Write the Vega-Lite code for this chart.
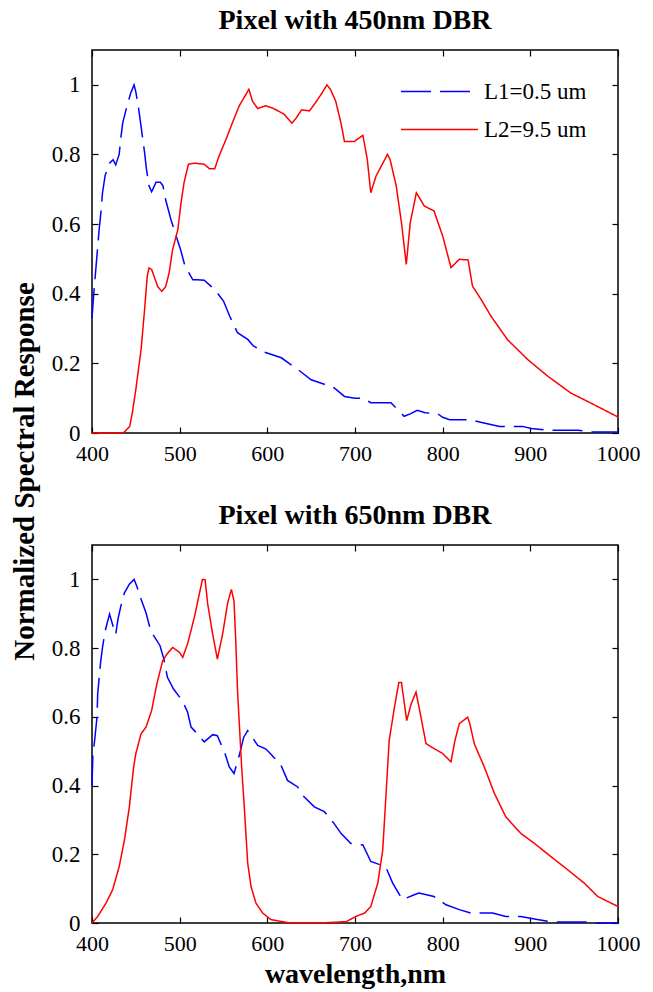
{
  "$schema": "https://vega.github.io/schema/vega-lite/v6.json",
  "padding": {"left": 9, "top": 6, "right": 5, "bottom": 5},
  "background": "white",
  "datasets": {
    "top": [
      {"wl": 400, "v": 0.33, "s": "L1=0.5 um"}, {"wl": 402, "v": 0.40, "s": "L1=0.5 um"}, {"wl": 404, "v": 0.46, "s": "L1=0.5 um"}, {"wl": 406, "v": 0.52, "s": "L1=0.5 um"}, {"wl": 408, "v": 0.58, "s": "L1=0.5 um"}, {"wl": 410, "v": 0.63, "s": "L1=0.5 um"}, {"wl": 412, "v": 0.69, "s": "L1=0.5 um"}, {"wl": 415, "v": 0.74, "s": "L1=0.5 um"}, {"wl": 420, "v": 0.775, "s": "L1=0.5 um"}, {"wl": 424, "v": 0.785, "s": "L1=0.5 um"}, {"wl": 427, "v": 0.77, "s": "L1=0.5 um"}, {"wl": 431, "v": 0.80, "s": "L1=0.5 um"}, {"wl": 433, "v": 0.85, "s": "L1=0.5 um"}, {"wl": 435, "v": 0.89, "s": "L1=0.5 um"}, {"wl": 439, "v": 0.93, "s": "L1=0.5 um"}, {"wl": 444, "v": 0.975, "s": "L1=0.5 um"}, {"wl": 448, "v": 1.0, "s": "L1=0.5 um"}, {"wl": 450, "v": 0.98, "s": "L1=0.5 um"}, {"wl": 453, "v": 0.935, "s": "L1=0.5 um"}, {"wl": 456, "v": 0.88, "s": "L1=0.5 um"}, {"wl": 460, "v": 0.805, "s": "L1=0.5 um"}, {"wl": 462, "v": 0.76, "s": "L1=0.5 um"}, {"wl": 465, "v": 0.71, "s": "L1=0.5 um"}, {"wl": 468, "v": 0.693, "s": "L1=0.5 um"}, {"wl": 473, "v": 0.72, "s": "L1=0.5 um"}, {"wl": 478, "v": 0.72, "s": "L1=0.5 um"}, {"wl": 481, "v": 0.71, "s": "L1=0.5 um"}, {"wl": 484, "v": 0.67, "s": "L1=0.5 um"}, {"wl": 490, "v": 0.613, "s": "L1=0.5 um"}, {"wl": 496, "v": 0.566, "s": "L1=0.5 um"}, {"wl": 501, "v": 0.527, "s": "L1=0.5 um"}, {"wl": 506, "v": 0.48, "s": "L1=0.5 um"}, {"wl": 515, "v": 0.44, "s": "L1=0.5 um"}, {"wl": 520, "v": 0.44, "s": "L1=0.5 um"}, {"wl": 528, "v": 0.439, "s": "L1=0.5 um"}, {"wl": 540, "v": 0.412, "s": "L1=0.5 um"}, {"wl": 550, "v": 0.379, "s": "L1=0.5 um"}, {"wl": 557, "v": 0.336, "s": "L1=0.5 um"}, {"wl": 566, "v": 0.288, "s": "L1=0.5 um"}, {"wl": 578, "v": 0.268, "s": "L1=0.5 um"}, {"wl": 584, "v": 0.25, "s": "L1=0.5 um"}, {"wl": 597, "v": 0.232, "s": "L1=0.5 um"}, {"wl": 616, "v": 0.216, "s": "L1=0.5 um"}, {"wl": 635, "v": 0.182, "s": "L1=0.5 um"}, {"wl": 650, "v": 0.153, "s": "L1=0.5 um"}, {"wl": 665, "v": 0.14, "s": "L1=0.5 um"}, {"wl": 676, "v": 0.13, "s": "L1=0.5 um"}, {"wl": 688, "v": 0.105, "s": "L1=0.5 um"}, {"wl": 700, "v": 0.10, "s": "L1=0.5 um"}, {"wl": 710, "v": 0.10, "s": "L1=0.5 um"}, {"wl": 718, "v": 0.087, "s": "L1=0.5 um"}, {"wl": 741, "v": 0.087, "s": "L1=0.5 um"}, {"wl": 756, "v": 0.048, "s": "L1=0.5 um"}, {"wl": 763, "v": 0.055, "s": "L1=0.5 um"}, {"wl": 771, "v": 0.065, "s": "L1=0.5 um"}, {"wl": 780, "v": 0.058, "s": "L1=0.5 um"}, {"wl": 794, "v": 0.056, "s": "L1=0.5 um"}, {"wl": 800, "v": 0.045, "s": "L1=0.5 um"}, {"wl": 808, "v": 0.038, "s": "L1=0.5 um"}, {"wl": 831, "v": 0.038, "s": "L1=0.5 um"}, {"wl": 847, "v": 0.029, "s": "L1=0.5 um"}, {"wl": 865, "v": 0.019, "s": "L1=0.5 um"}, {"wl": 891, "v": 0.019, "s": "L1=0.5 um"}, {"wl": 901, "v": 0.013, "s": "L1=0.5 um"}, {"wl": 920, "v": 0.008, "s": "L1=0.5 um"}, {"wl": 954, "v": 0.008, "s": "L1=0.5 um"}, {"wl": 970, "v": 0.003, "s": "L1=0.5 um"}, {"wl": 1000, "v": 0.003, "s": "L1=0.5 um"},
      {"wl": 400, "v": 0, "s": "L2=9.5 um"}, {"wl": 435, "v": 0, "s": "L2=9.5 um"}, {"wl": 437, "v": 0.003, "s": "L2=9.5 um"}, {"wl": 443, "v": 0.019, "s": "L2=9.5 um"}, {"wl": 446, "v": 0.058, "s": "L2=9.5 um"}, {"wl": 450, "v": 0.125, "s": "L2=9.5 um"}, {"wl": 456, "v": 0.24, "s": "L2=9.5 um"}, {"wl": 460, "v": 0.355, "s": "L2=9.5 um"}, {"wl": 463, "v": 0.45, "s": "L2=9.5 um"}, {"wl": 465, "v": 0.474, "s": "L2=9.5 um"}, {"wl": 468, "v": 0.47, "s": "L2=9.5 um"}, {"wl": 475, "v": 0.42, "s": "L2=9.5 um"}, {"wl": 479.5, "v": 0.407, "s": "L2=9.5 um"}, {"wl": 484, "v": 0.42, "s": "L2=9.5 um"}, {"wl": 488, "v": 0.46, "s": "L2=9.5 um"}, {"wl": 492, "v": 0.527, "s": "L2=9.5 um"}, {"wl": 498, "v": 0.585, "s": "L2=9.5 um"}, {"wl": 501.5, "v": 0.66, "s": "L2=9.5 um"}, {"wl": 505, "v": 0.719, "s": "L2=9.5 um"}, {"wl": 510, "v": 0.772, "s": "L2=9.5 um"}, {"wl": 517, "v": 0.775, "s": "L2=9.5 um"}, {"wl": 528, "v": 0.772, "s": "L2=9.5 um"}, {"wl": 534, "v": 0.759, "s": "L2=9.5 um"}, {"wl": 540, "v": 0.759, "s": "L2=9.5 um"}, {"wl": 545, "v": 0.796, "s": "L2=9.5 um"}, {"wl": 553, "v": 0.844, "s": "L2=9.5 um"}, {"wl": 560, "v": 0.89, "s": "L2=9.5 um"}, {"wl": 568, "v": 0.94, "s": "L2=9.5 um"}, {"wl": 579, "v": 0.987, "s": "L2=9.5 um"}, {"wl": 583, "v": 0.953, "s": "L2=9.5 um"}, {"wl": 589, "v": 0.932, "s": "L2=9.5 um"}, {"wl": 598, "v": 0.94, "s": "L2=9.5 um"}, {"wl": 607, "v": 0.932, "s": "L2=9.5 um"}, {"wl": 619, "v": 0.916, "s": "L2=9.5 um"}, {"wl": 628, "v": 0.89, "s": "L2=9.5 um"}, {"wl": 633, "v": 0.905, "s": "L2=9.5 um"}, {"wl": 639, "v": 0.928, "s": "L2=9.5 um"}, {"wl": 648, "v": 0.925, "s": "L2=9.5 um"}, {"wl": 655, "v": 0.949, "s": "L2=9.5 um"}, {"wl": 662, "v": 0.975, "s": "L2=9.5 um"}, {"wl": 668, "v": 1.0, "s": "L2=9.5 um"}, {"wl": 672, "v": 0.987, "s": "L2=9.5 um"}, {"wl": 678, "v": 0.953, "s": "L2=9.5 um"}, {"wl": 684, "v": 0.89, "s": "L2=9.5 um"}, {"wl": 688, "v": 0.837, "s": "L2=9.5 um"}, {"wl": 699, "v": 0.837, "s": "L2=9.5 um"}, {"wl": 709, "v": 0.855, "s": "L2=9.5 um"}, {"wl": 714, "v": 0.786, "s": "L2=9.5 um"}, {"wl": 718, "v": 0.69, "s": "L2=9.5 um"}, {"wl": 724, "v": 0.738, "s": "L2=9.5 um"}, {"wl": 737, "v": 0.80, "s": "L2=9.5 um"}, {"wl": 740, "v": 0.786, "s": "L2=9.5 um"}, {"wl": 747, "v": 0.71, "s": "L2=9.5 um"}, {"wl": 753, "v": 0.604, "s": "L2=9.5 um"}, {"wl": 758.5, "v": 0.484, "s": "L2=9.5 um"}, {"wl": 763, "v": 0.604, "s": "L2=9.5 um"}, {"wl": 770, "v": 0.69, "s": "L2=9.5 um"}, {"wl": 779, "v": 0.652, "s": "L2=9.5 um"}, {"wl": 790, "v": 0.638, "s": "L2=9.5 um"}, {"wl": 800, "v": 0.566, "s": "L2=9.5 um"}, {"wl": 809.5, "v": 0.475, "s": "L2=9.5 um"}, {"wl": 819, "v": 0.499, "s": "L2=9.5 um"}, {"wl": 829, "v": 0.497, "s": "L2=9.5 um"}, {"wl": 834, "v": 0.422, "s": "L2=9.5 um"}, {"wl": 844, "v": 0.383, "s": "L2=9.5 um"}, {"wl": 855, "v": 0.336, "s": "L2=9.5 um"}, {"wl": 874, "v": 0.268, "s": "L2=9.5 um"}, {"wl": 897, "v": 0.211, "s": "L2=9.5 um"}, {"wl": 920, "v": 0.163, "s": "L2=9.5 um"}, {"wl": 946, "v": 0.115, "s": "L2=9.5 um"}, {"wl": 969, "v": 0.086, "s": "L2=9.5 um"}, {"wl": 1000, "v": 0.046, "s": "L2=9.5 um"}
    ],
    "bottom": [
      {"wl": 400, "v": 0.40, "s": "L1=0.5 um"}, {"wl": 401, "v": 0.49, "s": "L1=0.5 um"}, {"wl": 403, "v": 0.531, "s": "L1=0.5 um"}, {"wl": 405.7, "v": 0.599, "s": "L1=0.5 um"}, {"wl": 406.5, "v": 0.667, "s": "L1=0.5 um"}, {"wl": 410, "v": 0.763, "s": "L1=0.5 um"}, {"wl": 412, "v": 0.802, "s": "L1=0.5 um"}, {"wl": 415, "v": 0.85, "s": "L1=0.5 um"}, {"wl": 420, "v": 0.899, "s": "L1=0.5 um"}, {"wl": 425, "v": 0.855, "s": "L1=0.5 um"}, {"wl": 427, "v": 0.84, "s": "L1=0.5 um"}, {"wl": 430, "v": 0.889, "s": "L1=0.5 um"}, {"wl": 433, "v": 0.923, "s": "L1=0.5 um"}, {"wl": 437, "v": 0.961, "s": "L1=0.5 um"}, {"wl": 442.6, "v": 0.986, "s": "L1=0.5 um"}, {"wl": 448, "v": 1.0, "s": "L1=0.5 um"}, {"wl": 451, "v": 0.981, "s": "L1=0.5 um"}, {"wl": 456, "v": 0.942, "s": "L1=0.5 um"}, {"wl": 461.6, "v": 0.903, "s": "L1=0.5 um"}, {"wl": 467, "v": 0.85, "s": "L1=0.5 um"}, {"wl": 477.6, "v": 0.807, "s": "L1=0.5 um"}, {"wl": 482, "v": 0.768, "s": "L1=0.5 um"}, {"wl": 486, "v": 0.715, "s": "L1=0.5 um"}, {"wl": 493, "v": 0.681, "s": "L1=0.5 um"}, {"wl": 503, "v": 0.647, "s": "L1=0.5 um"}, {"wl": 509, "v": 0.614, "s": "L1=0.5 um"}, {"wl": 513, "v": 0.57, "s": "L1=0.5 um"}, {"wl": 520, "v": 0.551, "s": "L1=0.5 um"}, {"wl": 528, "v": 0.527, "s": "L1=0.5 um"}, {"wl": 537.7, "v": 0.548, "s": "L1=0.5 um"}, {"wl": 543, "v": 0.545, "s": "L1=0.5 um"}, {"wl": 551.7, "v": 0.493, "s": "L1=0.5 um"}, {"wl": 556.6, "v": 0.454, "s": "L1=0.5 um"}, {"wl": 562, "v": 0.435, "s": "L1=0.5 um"}, {"wl": 568, "v": 0.488, "s": "L1=0.5 um"}, {"wl": 573, "v": 0.54, "s": "L1=0.5 um"}, {"wl": 577.6, "v": 0.56, "s": "L1=0.5 um"}, {"wl": 589, "v": 0.517, "s": "L1=0.5 um"}, {"wl": 598, "v": 0.507, "s": "L1=0.5 um"}, {"wl": 602, "v": 0.497, "s": "L1=0.5 um"}, {"wl": 615.6, "v": 0.459, "s": "L1=0.5 um"}, {"wl": 623, "v": 0.415, "s": "L1=0.5 um"}, {"wl": 634.6, "v": 0.396, "s": "L1=0.5 um"}, {"wl": 640, "v": 0.372, "s": "L1=0.5 um"}, {"wl": 653.6, "v": 0.338, "s": "L1=0.5 um"}, {"wl": 665, "v": 0.324, "s": "L1=0.5 um"}, {"wl": 676, "v": 0.29, "s": "L1=0.5 um"}, {"wl": 684, "v": 0.261, "s": "L1=0.5 um"}, {"wl": 695, "v": 0.232, "s": "L1=0.5 um"}, {"wl": 709, "v": 0.227, "s": "L1=0.5 um"}, {"wl": 718, "v": 0.179, "s": "L1=0.5 um"}, {"wl": 735, "v": 0.164, "s": "L1=0.5 um"}, {"wl": 743, "v": 0.116, "s": "L1=0.5 um"}, {"wl": 754, "v": 0.068, "s": "L1=0.5 um"}, {"wl": 767.6, "v": 0.082, "s": "L1=0.5 um"}, {"wl": 773, "v": 0.087, "s": "L1=0.5 um"}, {"wl": 790, "v": 0.077, "s": "L1=0.5 um"}, {"wl": 803.8, "v": 0.053, "s": "L1=0.5 um"}, {"wl": 819, "v": 0.039, "s": "L1=0.5 um"}, {"wl": 832, "v": 0.029, "s": "L1=0.5 um"}, {"wl": 857, "v": 0.029, "s": "L1=0.5 um"}, {"wl": 872, "v": 0.019, "s": "L1=0.5 um"}, {"wl": 889, "v": 0.019, "s": "L1=0.5 um"}, {"wl": 908, "v": 0.01, "s": "L1=0.5 um"}, {"wl": 925, "v": 0.003, "s": "L1=0.5 um"}, {"wl": 963, "v": 0.003, "s": "L1=0.5 um"}, {"wl": 976, "v": 0, "s": "L1=0.5 um"}, {"wl": 1000, "v": 0, "s": "L1=0.5 um"},
      {"wl": 400, "v": 0, "s": "L2=9.5 um"}, {"wl": 406.5, "v": 0.019, "s": "L2=9.5 um"}, {"wl": 416, "v": 0.058, "s": "L2=9.5 um"}, {"wl": 423.6, "v": 0.097, "s": "L2=9.5 um"}, {"wl": 431, "v": 0.164, "s": "L2=9.5 um"}, {"wl": 437, "v": 0.241, "s": "L2=9.5 um"}, {"wl": 442.6, "v": 0.338, "s": "L2=9.5 um"}, {"wl": 447.5, "v": 0.454, "s": "L2=9.5 um"}, {"wl": 450, "v": 0.493, "s": "L2=9.5 um"}, {"wl": 456, "v": 0.551, "s": "L2=9.5 um"}, {"wl": 461.6, "v": 0.57, "s": "L2=9.5 um"}, {"wl": 468, "v": 0.618, "s": "L2=9.5 um"}, {"wl": 474, "v": 0.696, "s": "L2=9.5 um"}, {"wl": 480.6, "v": 0.763, "s": "L2=9.5 um"}, {"wl": 485.6, "v": 0.783, "s": "L2=9.5 um"}, {"wl": 492, "v": 0.802, "s": "L2=9.5 um"}, {"wl": 499.6, "v": 0.788, "s": "L2=9.5 um"}, {"wl": 503.5, "v": 0.773, "s": "L2=9.5 um"}, {"wl": 509, "v": 0.812, "s": "L2=9.5 um"}, {"wl": 516.7, "v": 0.889, "s": "L2=9.5 um"}, {"wl": 522.4, "v": 0.957, "s": "L2=9.5 um"}, {"wl": 526, "v": 1.0, "s": "L2=9.5 um"}, {"wl": 529, "v": 0.999, "s": "L2=9.5 um"}, {"wl": 532, "v": 0.928, "s": "L2=9.5 um"}, {"wl": 537.6, "v": 0.841, "s": "L2=9.5 um"}, {"wl": 543, "v": 0.768, "s": "L2=9.5 um"}, {"wl": 549, "v": 0.841, "s": "L2=9.5 um"}, {"wl": 554.8, "v": 0.932, "s": "L2=9.5 um"}, {"wl": 559, "v": 0.971, "s": "L2=9.5 um"}, {"wl": 562, "v": 0.937, "s": "L2=9.5 um"}, {"wl": 564, "v": 0.82, "s": "L2=9.5 um"}, {"wl": 566, "v": 0.676, "s": "L2=9.5 um"}, {"wl": 570.7, "v": 0.454, "s": "L2=9.5 um"}, {"wl": 573.7, "v": 0.338, "s": "L2=9.5 um"}, {"wl": 577.6, "v": 0.174, "s": "L2=9.5 um"}, {"wl": 581.4, "v": 0.106, "s": "L2=9.5 um"}, {"wl": 587, "v": 0.058, "s": "L2=9.5 um"}, {"wl": 594.7, "v": 0.029, "s": "L2=9.5 um"}, {"wl": 604, "v": 0.01, "s": "L2=9.5 um"}, {"wl": 619, "v": 0.003, "s": "L2=9.5 um"}, {"wl": 627, "v": 0, "s": "L2=9.5 um"}, {"wl": 661, "v": 0, "s": "L2=9.5 um"}, {"wl": 690, "v": 0.004, "s": "L2=9.5 um"}, {"wl": 701, "v": 0.019, "s": "L2=9.5 um"}, {"wl": 711, "v": 0.029, "s": "L2=9.5 um"}, {"wl": 718, "v": 0.048, "s": "L2=9.5 um"}, {"wl": 726, "v": 0.116, "s": "L2=9.5 um"}, {"wl": 731.6, "v": 0.212, "s": "L2=9.5 um"}, {"wl": 735, "v": 0.357, "s": "L2=9.5 um"}, {"wl": 739, "v": 0.531, "s": "L2=9.5 um"}, {"wl": 745, "v": 0.628, "s": "L2=9.5 um"}, {"wl": 750, "v": 0.70, "s": "L2=9.5 um"}, {"wl": 753, "v": 0.70, "s": "L2=9.5 um"}, {"wl": 759, "v": 0.589, "s": "L2=9.5 um"}, {"wl": 764, "v": 0.637, "s": "L2=9.5 um"}, {"wl": 769.6, "v": 0.672, "s": "L2=9.5 um"}, {"wl": 774.5, "v": 0.609, "s": "L2=9.5 um"}, {"wl": 781, "v": 0.522, "s": "L2=9.5 um"}, {"wl": 790.5, "v": 0.507, "s": "L2=9.5 um"}, {"wl": 800, "v": 0.493, "s": "L2=9.5 um"}, {"wl": 809.5, "v": 0.469, "s": "L2=9.5 um"}, {"wl": 814, "v": 0.531, "s": "L2=9.5 um"}, {"wl": 819, "v": 0.58, "s": "L2=9.5 um"}, {"wl": 828.5, "v": 0.599, "s": "L2=9.5 um"}, {"wl": 831, "v": 0.58, "s": "L2=9.5 um"}, {"wl": 836, "v": 0.522, "s": "L2=9.5 um"}, {"wl": 847.5, "v": 0.454, "s": "L2=9.5 um"}, {"wl": 859, "v": 0.377, "s": "L2=9.5 um"}, {"wl": 872, "v": 0.309, "s": "L2=9.5 um"}, {"wl": 889, "v": 0.261, "s": "L2=9.5 um"}, {"wl": 904.5, "v": 0.232, "s": "L2=9.5 um"}, {"wl": 923.5, "v": 0.193, "s": "L2=9.5 um"}, {"wl": 942.6, "v": 0.155, "s": "L2=9.5 um"}, {"wl": 961.5, "v": 0.116, "s": "L2=9.5 um"}, {"wl": 977, "v": 0.077, "s": "L2=9.5 um"}, {"wl": 1000, "v": 0.048, "s": "L2=9.5 um"}
    ]
  },
  "bounds": "flush",
  "spacing": 112,
  "resolve": {"legend": {"color": "independent", "strokeDash": "independent"}},
  "vconcat": [
    {
      "width": 526,
      "height": 383,
      "title": {"text": "Pixel with 450nm DBR", "offset": 14},
      "data": {"name": "top"},
      "layer": [
        {
          "mark": {"type": "line", "strokeWidth": 1.5},
          "encoding": {
            "x": {"field": "wl", "type": "quantitative", "scale": {"domain": [400, 1000], "nice": false, "zero": false},
                  "axis": {"orient": "bottom", "values": [400, 500, 600, 700, 800, 900, 1000], "format": "d", "title": null, "labelPadding": 16, "labelFontSize": 22}},
            "y": {"field": "v", "type": "quantitative", "scale": {"domain": [0, 1.1], "nice": false, "zero": false},
                  "axis": {"orient": "left", "values": [0, 0.2, 0.4, 0.6, 0.8, 1], "format": "~g", "labelPadding": 18,
                           "title": "Normalized Spectral Response", "titleX": -68, "titleY": 421, "titleAngle": -90, "titleAlign": "center", "titleBaseline": "middle", "titleFontSize": 29}},
            "color": {"field": "s", "type": "nominal", "scale": {"domain": ["L1=0.5 um", "L2=9.5 um"], "range": ["#0000ff", "#ff0000"]},
                      "legend": {"title": null, "orient": "none", "legendX": 336, "legendY": 30}},
            "strokeDash": {"field": "s", "type": "nominal", "scale": {"domain": ["L1=0.5 um", "L2=9.5 um"], "range": [[30, 9], [1, 0]]},
                           "legend": {"title": null, "orient": "none", "legendX": 336, "legendY": 30}},
            "order": {"field": "wl", "type": "quantitative"}
          }
        },
        {
          "mark": {"type": "line", "opacity": 0},
          "encoding": {
            "x": {"field": "wl", "type": "quantitative", "scale": {"domain": [400, 1000], "nice": false, "zero": false},
                  "axis": {"orient": "top", "values": [400, 500, 600, 700, 800, 900, 1000], "labels": false, "title": null}},
            "y": {"field": "v", "type": "quantitative", "scale": {"domain": [0, 1.1], "nice": false, "zero": false},
                  "axis": {"orient": "right", "values": [0, 0.2, 0.4, 0.6, 0.8, 1], "labels": false, "title": null}},
            "detail": {"field": "s"}
          }
        }
      ],
      "resolve": {"axis": {"x": "independent", "y": "independent"}}
    },
    {
      "width": 526,
      "height": 378,
      "title": {"text": "Pixel with 650nm DBR", "offset": 14},
      "data": {"name": "bottom"},
      "layer": [
        {
          "mark": {"type": "line", "strokeWidth": 1.5},
          "encoding": {
            "x": {"field": "wl", "type": "quantitative", "scale": {"domain": [400, 1000], "nice": false, "zero": false},
                  "axis": {"orient": "bottom", "values": [400, 500, 600, 700, 800, 900, 1000], "format": "d", "title": "wavelength,nm", "labelPadding": 16, "labelFontSize": 22, "titlePadding": 6}},
            "y": {"field": "v", "type": "quantitative", "scale": {"domain": [0, 1.1], "nice": false, "zero": false},
                  "axis": {"orient": "left", "values": [0, 0.2, 0.4, 0.6, 0.8, 1], "format": "~g", "title": null, "labelPadding": 18}},
            "color": {"field": "s", "type": "nominal", "scale": {"domain": ["L1=0.5 um", "L2=9.5 um"], "range": ["#0000ff", "#ff0000"]}, "legend": null},
            "strokeDash": {"field": "s", "type": "nominal", "scale": {"domain": ["L1=0.5 um", "L2=9.5 um"], "range": [[30, 9], [1, 0]]}, "legend": null},
            "order": {"field": "wl", "type": "quantitative"}
          }
        },
        {
          "mark": {"type": "line", "opacity": 0},
          "encoding": {
            "x": {"field": "wl", "type": "quantitative", "scale": {"domain": [400, 1000], "nice": false, "zero": false},
                  "axis": {"orient": "top", "values": [400, 500, 600, 700, 800, 900, 1000], "labels": false, "title": null}},
            "y": {"field": "v", "type": "quantitative", "scale": {"domain": [0, 1.1], "nice": false, "zero": false},
                  "axis": {"orient": "right", "values": [0, 0.2, 0.4, 0.6, 0.8, 1], "labels": false, "title": null}},
            "detail": {"field": "s"}
          }
        }
      ],
      "resolve": {"axis": {"x": "independent", "y": "independent"}}
    }
  ],
  "config": {
    "font": "Liberation Serif",
    "view": {"stroke": "#000", "strokeWidth": 1.5},
    "axis": {"domain": false, "grid": false, "tickColor": "#000", "tickSize": -6, "tickWidth": 1.2, "labelFlush": false, "labelOverlap": false,
             "labelFont": "Liberation Serif", "labelFontSize": 23, "labelColor": "#000", "labelPadding": 10,
             "titleFont": "Liberation Serif", "titleFontSize": 28, "titleFontWeight": "bold", "titleColor": "#000", "titlePadding": 6},
    "title": {"font": "Liberation Serif", "fontSize": 28, "fontWeight": "bold", "color": "#000", "anchor": "middle"},
    "legend": {"labelFont": "Liberation Serif", "labelFontSize": 23, "labelColor": "#000",
               "symbolType": "M-7.7,0H7.7", "symbolSize": 100, "symbolStrokeWidth": 1.5, "labelOffset": 33, "rowPadding": 14}
  }
}
